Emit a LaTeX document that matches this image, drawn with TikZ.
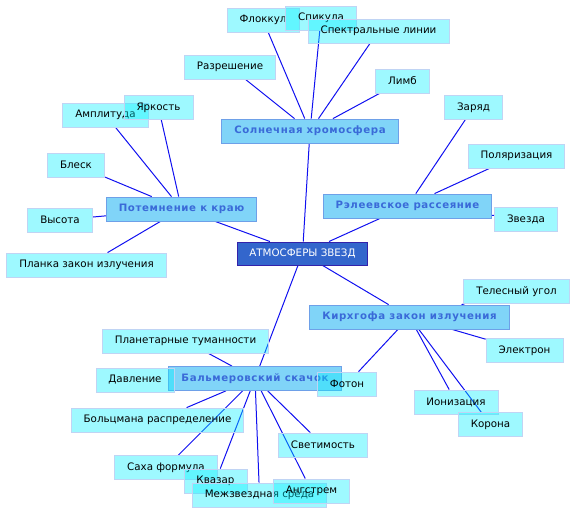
\documentclass[tikz,border=0pt]{standalone}
\usepackage{fontspec}
\setmainfont{DejaVu Sans}
\newfontfamily\hubfont[LetterSpace=6]{DejaVu Sans}
\usetikzlibrary{backgrounds}
\definecolor{leaffill}{RGB}{0,240,255}
\definecolor{leafline}{RGB}{192,212,244}
\definecolor{hubfill}{RGB}{128,212,248}
\definecolor{hubline}{RGB}{110,160,232}
\definecolor{hubtext}{RGB}{58,106,216}
\definecolor{rootfill}{RGB}{51,102,204}
\definecolor{rootline}{RGB}{51,34,170}
\definecolor{linkblue}{RGB}{16,16,240}

\begin{document}
\begin{tikzpicture}[
    x=1pt, y=-1pt,
    leaf/.style={draw=leafline, line width=0.8pt, fill=leaffill, fill opacity=0.38, text opacity=1,
      minimum height=24pt, inner xsep=12.5pt, font=\fontsize{10.3}{12}\selectfont},
    hub/.style={draw=hubline, line width=0.8pt, fill=hubfill, text=hubtext,
      minimum height=24pt, inner xsep=12.5pt, font=\fontsize{10.2}{12}\hubfont\bfseries},
    root/.style={draw=rootline, line width=1pt, fill=rootfill, text=white,
      minimum height=23pt, inner xsep=12pt, font=\fontsize{10.3}{12}\selectfont},
    link/.style={draw=linkblue, line width=1pt}
  ]
    \useasboundingbox (0,0) rectangle (576,514);

    % centre and the five branches
    \node[root] (root) at (302.5,253.5) {АТМОСФЕРЫ ЗВЕЗД};
    \node[hub] (chromo)    at (310,131)   {Солнечная хромосфера};
    \node[hub] (darken)    at (181.5,209) {Потемнение к краю};
    \node[hub] (rayleigh)  at (407.5,206) {Рэлеевское рассеяние};
    \node[hub] (kirchhoff) at (409.5,317) {Кирхгофа закон излучения};
    \node[hub] (balmer)    at (255,378.5) {Бальмеровский скачок};

    % chromosphere
    \node[leaf] (flocc)  at (263,20)    {Флоккул};
    \node[leaf] (spic)   at (321,18)    {Спикула};
    \node[leaf] (spectr) at (378.5,31)  {Спектральные линии};
    \node[leaf] (resol)  at (230,67)    {Разрешение};
    \node[leaf] (limbus) at (402.5,81)  {Лимб};

    % limb darkening
    \node[leaf] (ampl)   at (105.5,115) {Амплитуда};
    \node[leaf] (bright) at (158.5,107.5) {Яркость};
    \node[leaf] (gloss)  at (76,165)    {Блеск};
    \node[leaf] (height) at (60,220)    {Высота};
    \node[leaf] (planck) at (86.5,265)  {Планка закон излучения};

    % rayleigh
    \node[leaf] (charge) at (473.5,107.5) {Заряд};
    \node[leaf] (polar)  at (516.5,156) {Поляризация};
    \node[leaf] (star)   at (526,219)   {Звезда};

    % kirchhoff
    \node[leaf] (solid)    at (516.5,291.5) {Телесный угол};
    \node[leaf] (electron) at (524.5,350.5) {Электрон};
    \node[leaf] (photon)   at (347,384)     {Фотон};
    \node[leaf] (ioniz)    at (456,402)     {Ионизация};
    \node[leaf] (corona)   at (490.5,424.5) {Корона};

    % balmer jump
    \node[leaf] (nebula) at (185.5,341) {Планетарные туманности};
    \node[leaf] (press)  at (135,380)   {Давление};
    \node[leaf] (boltz)  at (157.5,420) {Больцмана распределение};
    \node[leaf] (lumin)  at (323,445)   {Светимость};
    \node[leaf] (saha)   at (166,467.5) {Саха формула};
    \node[leaf] (quasar) at (215.5,481) {Квазар};
    \node[leaf] (ism)    at (259.5,495) {Межзвездная среда};
    \node[leaf] (angst)  at (311.5,491) {Ангстрем};

    \begin{scope}[on background layer]
      \draw[link] (root) -- (chromo) (root) -- (darken) (root) -- (rayleigh)
        (root) -- (kirchhoff) (root) -- (balmer);
      \draw[link] (chromo) -- (flocc) (chromo) -- (spic) (chromo) -- (spectr)
        (chromo) -- (resol) (chromo) -- (limbus);
      \draw[link] (darken) -- (ampl) (darken) -- (bright) (darken) -- (gloss)
        (darken) -- (height) (darken) -- (planck);
      \draw[link] (rayleigh) -- (charge) (rayleigh) -- (polar) (rayleigh) -- (star);
      \draw[link] (kirchhoff) -- (solid) (kirchhoff) -- (electron) (kirchhoff) -- (photon)
        (kirchhoff) -- (ioniz) (kirchhoff) -- (corona);
      \draw[link] (balmer) -- (nebula) (balmer) -- (press) (balmer) -- (boltz)
        (balmer) -- (lumin) (balmer) -- (saha) (balmer) -- (quasar)
        (balmer) -- (ism) (balmer) -- (angst);
    \end{scope}
\end{tikzpicture}
\end{document}
